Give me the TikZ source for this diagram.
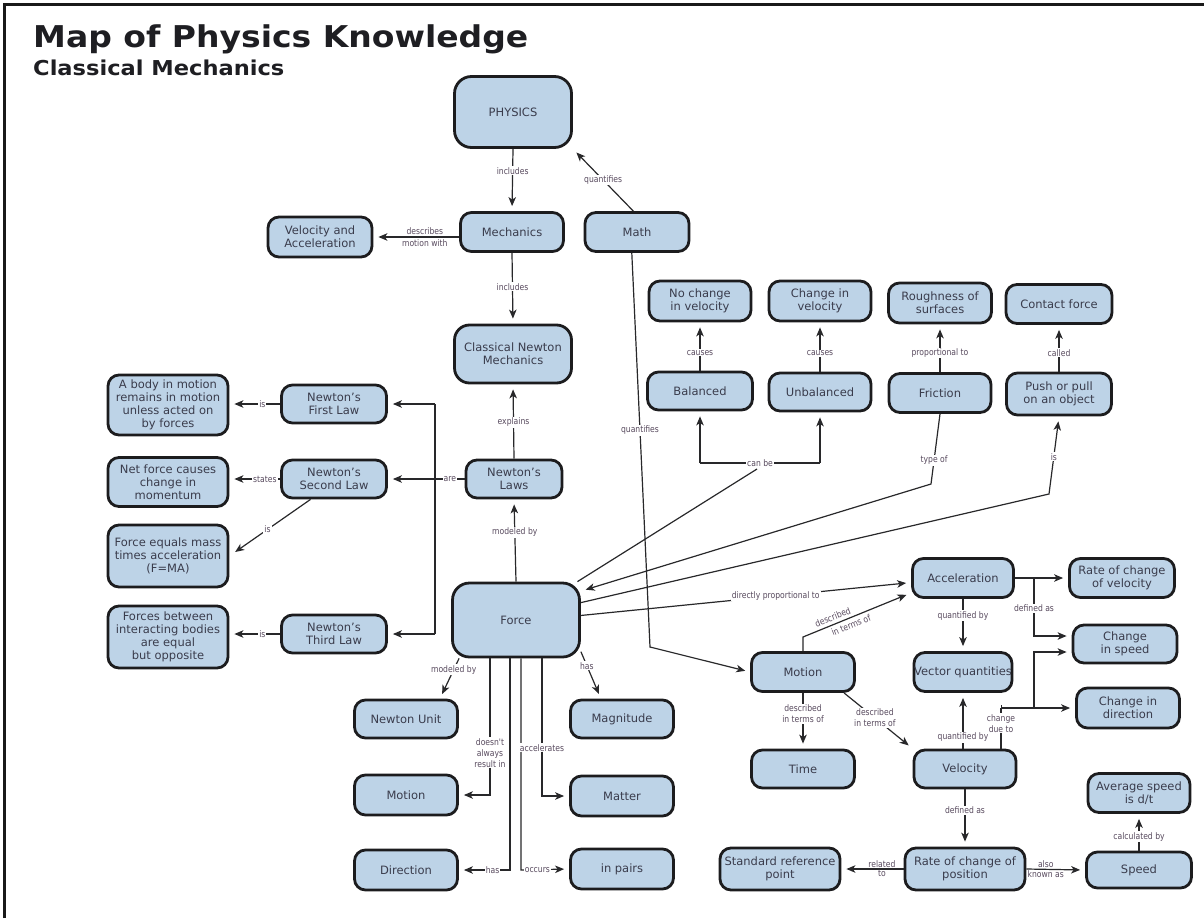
\documentclass[tikz,border=0pt]{standalone}
\usepackage{fontspec}
\setmainfont{DejaVu Sans}
\newfontfamily\titlefont[FakeStretch=1.1]{DejaVu Sans}
\newfontfamily\lblfont[FakeStretch=0.85]{DejaVu Sans}
\usetikzlibrary{arrows.meta,calc}

\definecolor{boxfill}{RGB}{189,211,231}
\definecolor{boxline}{RGB}{28,28,30}
\definecolor{boxtext}{RGB}{58,60,76}
\definecolor{linkc}{RGB}{40,40,42}
\definecolor{lblc}{RGB}{88,74,94}
\definecolor{titlec}{RGB}{30,30,34}

\begin{document}
\begin{tikzpicture}[x=1pt,y=-1pt,
  box/.style={draw=boxline, line width=2.8pt, fill=boxfill, rounded corners=11pt,
    align=center, text=boxtext, font=\fontsize{11.5}{13}\selectfont, inner sep=1.5pt},
  bigbox/.style={box, rounded corners=17pt},
  sz/.style 2 args={minimum width=#1pt, minimum height=#2pt},
  link/.style={draw=linkc, line width=1.2pt},
  arrow/.style={link, -{Stealth[length=9pt,width=7.5pt,inset=2.5pt]}, shorten >=5pt},
  lbl/.style={font=\lblfont\fontsize{9}{11}\selectfont, text=lblc, fill=white,
    inner sep=1pt, align=center},
  lblt/.style={lbl, fill=none}]

\useasboundingbox (0,0) rectangle (1204,918);

% frame and headings
\draw[line width=3pt, black!90] (4,918) -- (4,4) -- (1204,4);
\node[anchor=base west, inner sep=0, text=titlec,
  font=\titlefont\bfseries\fontsize{30}{32}\selectfont] (title) at (33,47) {Map of Physics Knowledge};
\node[anchor=base west, inner sep=0, text=titlec,
  font=\titlefont\bfseries\fontsize{20.5}{22}\selectfont] (subtitle) at (33,75) {Classical Mechanics};

% concepts
\node[bigbox, sz={117}{71}] (phys) at (513,112) {PHYSICS};
\node[box, sz={103}{39}] (mech) at (512,232) {Mechanics};
\node[box, sz={104}{39}] (math) at (637,232) {Math};
\node[box, sz={104}{40}] (va) at (320,237) {Velocity and\\Acceleration};
\node[box, rounded corners=15pt, sz={117}{58}] (cnm) at (513,354) {Classical Newton\\Mechanics};
\node[box, sz={102}{40}] (nochg) at (700,301) {No change\\in velocity};
\node[box, sz={102}{40}] (chgv) at (820,301) {Change in\\velocity};
\node[box, sz={103}{40}] (rough) at (940,303) {Roughness of\\surfaces};
\node[box, sz={106}{39}] (contact) at (1059,304) {Contact force};
\node[box, sz={105}{38}] (bal) at (700,391) {Balanced};
\node[box, sz={102}{38}] (unbal) at (820,392) {Unbalanced};
\node[box, sz={102}{39}] (fric) at (940,393) {Friction};
\node[box, sz={105}{42}] (push) at (1059,394) {Push or pull\\on an object};
\node[box, sz={120}{60}] (body) at (168,405) {A body in motion\\remains in motion\\unless acted on\\by forces};
\node[box, sz={105}{38}] (nfl) at (334,404) {Newton’s\\First Law};
\node[box, sz={120}{49}] (netf) at (168,482) {Net force causes\\change in\\momentum};
\node[box, sz={105}{38}] (nsl) at (334,479) {Newton’s\\Second Law};
\node[box, sz={120}{62}] (fma) at (168,556) {Force equals mass\\times acceleration\\(F=MA)};
\node[box, sz={120}{62}] (fbi) at (168,637) {Forces between\\interacting bodies\\are equal\\but opposite};
\node[box, sz={105}{38}] (ntl) at (334,634) {Newton’s\\Third Law};
\node[box, sz={96}{38}] (nlaws) at (514,479) {Newton’s\\Laws};
\node[bigbox, sz={127}{74}] (force) at (516,620) {Force};
\node[box, sz={103}{38}] (nunit) at (406,719) {Newton Unit};
\node[box, sz={103}{40}] (motl) at (406,795) {Motion};
\node[box, sz={103}{40}] (dir) at (406,870) {Direction};
\node[box, sz={103}{38}] (mag) at (622,719) {Magnitude};
\node[box, sz={103}{40}] (matter) at (622,796) {Matter};
\node[box, sz={103}{40}] (pairs) at (622,869) {in pairs};
\node[box, sz={101}{39}] (acc) at (963,578) {Acceleration};
\node[box, sz={105}{39}] (rcv) at (1122,578) {Rate of change\\of velocity};
\node[box, sz={104}{38}] (cspd) at (1125,644) {Change\\in speed};
\node[box, sz={103}{40}] (cdir) at (1128,708) {Change in\\direction};
\node[box, sz={98}{39}, inner sep=0pt] (vq) at (963,672) {Vector quantities};
\node[box, sz={103}{39}] (motr) at (803,672) {Motion};
\node[box, sz={103}{38}] (time) at (803,769) {Time};
\node[box, sz={102}{38}] (vel) at (965,769) {Velocity};
\node[box, sz={120}{42}] (srp) at (780,869) {Standard reference\\point};
\node[box, sz={120}{42}] (rcp) at (965,869) {Rate of change of\\position};
\node[box, sz={105}{36}] (speed) at (1139,870) {Speed};
\node[box, sz={102}{39}] (avg) at (1139,793) {Average speed\\is d/t};

% bend points
\coordinate (jt) at (435,404);
\coordinate (jm) at (435,479);
\coordinate (jb) at (435,634);
\coordinate (mb) at (650,647);
\coordinate (cbl) at (700,463);
\coordinate (cbr) at (820,463);
\coordinate (cbm) at (757,469);
\coordinate (tf) at (931,484);
\coordinate (isb) at (1049,494);
\coordinate (mu) at (803,637);
\coordinate (da) at (1034,578);
\coordinate (db) at (1034,636);
\coordinate (cv) at (1001,708);
\coordinate (cj) at (1034,708);
\coordinate (cs) at (1034,652);
\coordinate (fa) at (490,795);
\coordinate (fd) at (510,870);
\coordinate (fo) at (521,870);
\coordinate (fm) at (542,796);

% top of the map
\draw[arrow] (phys.south) -- node[lbl, pos=.35]{includes} (mech.north);
\draw[arrow] (math.100) -- node[lbl, pos=.5]{quantifies} (phys.south east);
\draw[arrow] (mech.west |- va.east) -- node[lblt, above=1pt, pos=.4]{describes}
  node[lblt, below=1pt, pos=.4]{motion with} (va.east);
\draw[arrow] (mech.south) -- node[lbl, pos=.48]{includes} (cnm.north);
\draw[arrow] (nlaws.north) -- node[lbl, pos=.49]{explains} (cnm.south);
\draw[arrow] (force.north) -- node[lbl, pos=.6]{modeled by} (nlaws.south);

% Newton's laws
\draw[link] (nlaws.west) -- node[lbl, pos=.5]{are} (jm);
\draw[link] (jt) -- (jb);
\draw[arrow] (jt) -- (nfl.east);
\draw[arrow] (jm) -- (nsl.east);
\draw[arrow] (jb) -- (ntl.east);
\draw[arrow] (nfl.west) -- node[lbl, pos=.35]{is} (nfl.west -| body.east);
\draw[arrow] (nsl.west) -- node[lbl, pos=.3]{states} (nsl.west -| netf.east);
\draw[arrow, shorten >=7pt] (nsl.221) -- node[lbl, pos=.53]{is} (fma.east);
\draw[arrow] (ntl.west) -- node[lbl, pos=.35]{is} (ntl.west -| fbi.east);

% kinds and properties of force
\draw[arrow] (math.256) -- node[lbl, pos=.45]{quantifies} (mb) -- (motr.west);
\draw[link] (force.32) -- (cbm);
\draw[link] (cbl) -- node[lbl, pos=.5]{can be} (cbr);
\draw[arrow] (cbl) -- (bal.south);
\draw[arrow] (cbr) -- (unbal.south);
\draw[arrow] (bal.north) -- node[lbl, pos=.37]{causes} (nochg.south);
\draw[arrow] (unbal.north) -- node[lbl, pos=.37]{causes} (chgv.south);
\draw[arrow] (fric.north) -- node[lbl, pos=.4]{proportional to} (rough.south);
\draw[arrow] (push.north) -- node[lbl, pos=.4]{called} (contact.south);
\draw[arrow] (fric.south) -- node[lbl, pos=.66]{type of} (tf) -- (force.24);
\draw[arrow] (force.15) -- (isb) -- node[lbl, pos=.48]{is} (push.south);
\draw[arrow] (force.4) -- node[lbl, pos=.59]{directly proportional to} (acc.185);

% below the force
\draw[arrow] (force.214) -- node[lbl, pos=.28]{modeled by} (nunit.31);
\draw[arrow] (force.-26) -- node[lbl, pos=.3]{has} (mag.136);
\draw[arrow] (force.south -| fa) -- node[lbl, pos=.69]{doesn't\\always\\result in} (fa) -- (motl.east);
\draw[arrow] (force.south -| fd) -- (fd) -- node[lbl, pos=.34]{has} (dir.east);
\draw[arrow] (force.south -| fo) -- (fo) -- node[lbl, pos=.34]{occurs} (pairs.west);
\draw[arrow] (force.south -| fm) -- node[lbl, pos=.65]{accelerates} (fm) -- (matter.west);

% motion, velocity and acceleration
\draw[arrow] (motr.north) -- (mu) -- node[lblt, above=3pt, sloped, pos=.3, inner sep=0pt]{described}
  node[lblt, below=3pt, sloped, pos=.42, inner sep=0pt]{in terms of} (acc.196);
\draw[arrow] (acc.south) -- node[lbl, pos=.32]{quantified by} (vq.north);
\draw[arrow] (acc.east) -- (rcv.west);
\draw[arrow] (da) -- node[lbl, pos=.52]{defined as} (db) -- (db -| cspd.west);
\draw[link] (cv |- vel.north) -- node[lbl, pos=.62]{change\\due to} (cv);
\draw[arrow, {Bar[width=7pt]}-{Stealth[length=9pt,width=7.5pt,inset=2.5pt]}] (cv) -- (cdir.west);
\draw[arrow] (cj) -- (cs) -- (cs -| cspd.west);
\draw[arrow] (vel.north -| vq.south) -- node[lbl, pos=.2]{quantified by} (vq.south);
\draw[arrow] (motr.south) -- node[lbl, pos=.38]{described\\in terms of} (time.north);
\draw[arrow] (motr.333) -- node[lbl, pos=.45]{described\\in terms of} (vel.north west);
\draw[arrow] (vel.south) -- node[lbl, pos=.37]{defined as} (rcp.north);
\draw[arrow] (rcp.west) -- node[lblt, above=0pt, pos=.35]{related}
  node[lblt, below=0pt, pos=.35]{to} (srp.east);
\draw[arrow] (rcp.east) -- node[lblt, above=0pt, pos=.33]{also}
  node[lblt, below=0pt, pos=.33]{known as} (speed.west);
\draw[arrow] (speed.north) -- node[lbl, pos=.38]{calculated by} (avg.south);

\end{tikzpicture}
\end{document}
